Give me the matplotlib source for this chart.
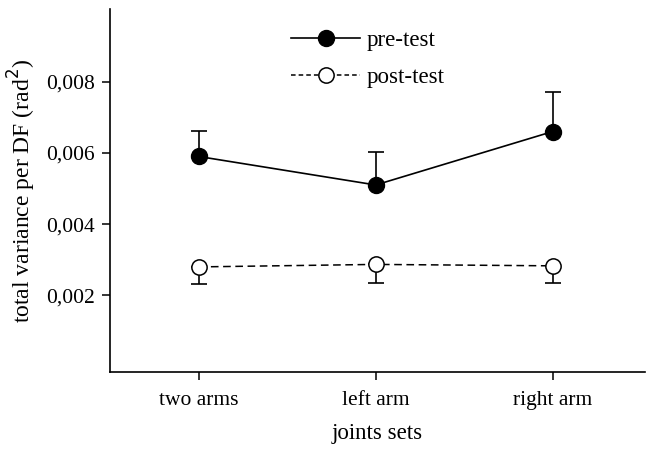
import matplotlib
matplotlib.use("Agg")
import matplotlib.pyplot as plt
from matplotlib.lines import Line2D

categories = ["two arms", "left arm", "right arm"]
pre_test = [0.0059, 0.0051, 0.0066]
pre_err_up = [0.00072, 0.00093, 0.00112]
post_test = [0.00280, 0.00287, 0.00283]
post_err_down = [0.00047, 0.00051, 0.00049]
ytick_values = [0.002, 0.004, 0.006, 0.008]
ytick_labels = ["0,002", "0,004", "0,006", "0,008"]

plt.rcParams['font.family'] = ['Liberation Serif', 'DejaVu Serif']

fig = plt.figure(figsize=(6.48, 4.49), dpi=100)
ax = fig.add_axes([0.17, 0.1715, 0.825, 0.8085])

x = list(range(len(categories)))
zeros = [0] * len(categories)

ax.errorbar(x, pre_test, yerr=[zeros, pre_err_up], fmt='none', ecolor='black',
            elinewidth=1.2, capsize=6, capthick=1.2, zorder=2)
ax.errorbar(x, post_test, yerr=[post_err_down, zeros], fmt='none', ecolor='black',
            elinewidth=1.2, capsize=6, capthick=1.2, zorder=2)

ax.plot(x, pre_test, color='black', linewidth=1.2, marker='o', markersize=11.5,
        markerfacecolor='black', markeredgecolor='black', zorder=3)
ax.plot(x, post_test, color='black', linewidth=1.1, linestyle=(0, (5, 3)), marker='o',
        markersize=11, markerfacecolor='white', markeredgecolor='black',
        markeredgewidth=1.1, zorder=3)

ax.set_xlim(-0.5, 2.52)
ax.set_ylim(-0.00015, 0.01004)
ax.set_xticks(x)
ax.set_xticklabels(categories, fontsize=15.5)
ax.set_yticks(ytick_values)
ax.set_yticklabels(ytick_labels, fontsize=15.5)
ax.tick_params(direction='out', length=6, width=1.1)
ax.tick_params(axis='x', pad=8)
ax.tick_params(axis='y', pad=5)

for s in ['top', 'right']:
    ax.spines[s].set_visible(False)
for s in ['left', 'bottom']:
    ax.spines[s].set_linewidth(1.2)

ax.set_xlabel("joints sets", fontsize=16.5, labelpad=9)
ax.set_ylabel("total variance per DF (rad$^2$)", fontsize=17, labelpad=6)

handles = [
    Line2D([], [], color='black', linewidth=1.2, marker='o', markersize=11.5,
           markerfacecolor='black'),
    Line2D([], [], color='black', linewidth=1.1, linestyle=(0, (3, 2)), marker='o',
           markersize=11, markerfacecolor='white', markeredgewidth=1.1),
]
ax.legend(handles, ["pre-test", "post-test"], loc='upper left',
          bbox_to_anchor=(0.3, 1.0), frameon=False, fontsize=16.5,
          handlelength=3.0, handletextpad=0.3, labelspacing=0.7)

fig.savefig("out.png", dpi=100)
